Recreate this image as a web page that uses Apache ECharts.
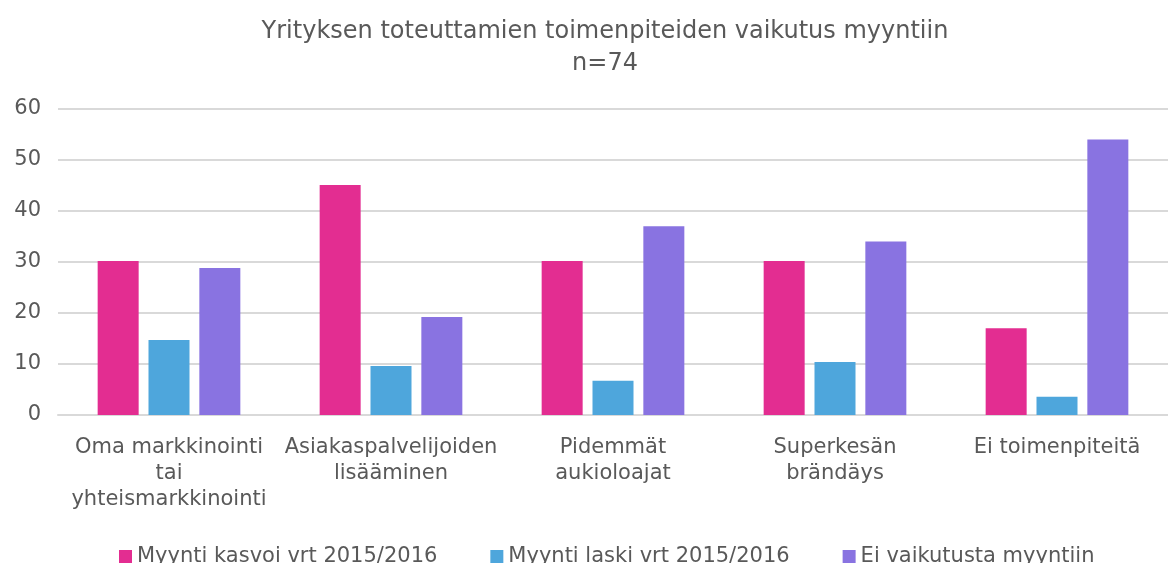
<!DOCTYPE html>
<html>
<head>
<meta charset="utf-8">
<script src="https://cdn.jsdelivr.net/npm/echarts@6/dist/echarts.min.js"></script>
<style>
  html, body { margin: 0; padding: 0; background: #fff; }
  #chart { width: 1168px; height: 563px; }
</style>
</head>
<body>
<div id="chart"></div>
<script>
// data
var categories = ['Oma markkinointi\ntai\nyhteismarkkinointi', 'Asiakaspalvelijoiden\nlisääminen', 'Pidemmät\naukioloajat', 'Superkesän\nbrändäys', 'Ei toimenpiteitä'];
var kasvoi = [30.2, 45.1, 30.2, 30.2, 17.0];
var laski = [14.7, 9.6, 6.7, 10.4, 3.6];
var eiVaikutusta = [28.8, 19.2, 37.0, 34.0, 54.0];
var seriesNames = ['Myynti kasvoi vrt 2015/2016', 'Myynti laski vrt 2015/2016', 'Ei vaikutusta myyntiin'];

var font = 'DejaVu Sans';
var myChart = echarts.init(document.getElementById('chart'));

var option = {
    textStyle: { fontFamily: font },
    title: {
        text: 'Yrityksen toteuttamien toimenpiteiden vaikutus myyntiin\nn=74',
        left: 600,
        textAlign: 'center',
        top: 11,
        textStyle: { fontFamily: font, fontSize: 24, fontWeight: 'normal', color: '#595959', lineHeight: 32 }
    },
    legend: {
        top: 541,
        left: 114,
        itemWidth: 13,
        itemHeight: 13,
        itemGap: 53,
        icon: 'rect',
        textStyle: { fontFamily: font, fontSize: 21, color: '#595959' },
        data: seriesNames
    },
    grid: { left: 58, right: -11, top: 109, bottom: 148 },
    xAxis: {
        type: 'category',
        data: categories,
        axisLine: { lineStyle: { color: '#d9d9d9', width: 2 } },
        axisTick: { show: false },
        axisLabel: { fontFamily: font, fontSize: 21, color: '#595959', lineHeight: 26, margin: 20, interval: 0 }
    },
    yAxis: {
        type: 'value',
        min: 0,
        max: 60,
        interval: 10,
        axisLabel: { fontFamily: font, fontSize: 21, color: '#595959', margin: 17 },
        splitLine: { lineStyle: { color: '#d9d9d9', width: 2 } }
    },
    series: [{
        name: seriesNames[0],
        type: 'bar',
        data: kasvoi,
        barWidth: 41,
        barGap: '24%',
        itemStyle: { color: '#e32d91' }
    }, {
        name: seriesNames[1],
        type: 'bar',
        data: laski,
        barWidth: 41,
        barGap: '24%',
        itemStyle: { color: '#4ea6dc' }
    }, {
        name: seriesNames[2],
        type: 'bar',
        data: eiVaikutusta,
        barWidth: 41,
        barGap: '24%',
        itemStyle: { color: '#8973e1' }
    }]
};

myChart.setOption(option);
</script>
</body>
</html>
